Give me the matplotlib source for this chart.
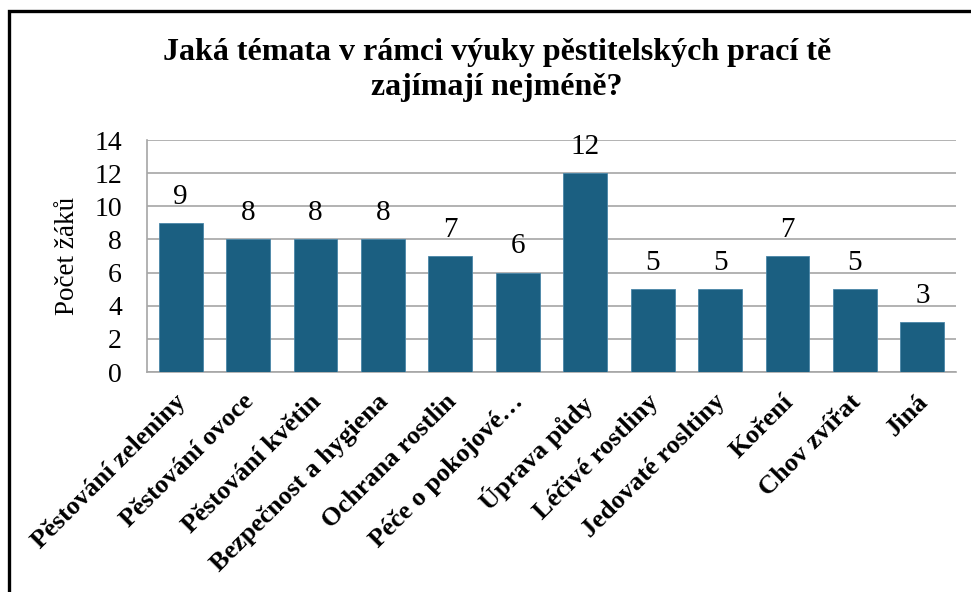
import matplotlib.pyplot as plt
from matplotlib.patches import Rectangle
from matplotlib.transforms import ScaledTranslation

# data
kategorie = ['Pěstování zeleniny', 'Pěstování ovoce', 'Pěstování květin',
             'Bezpečnost a hygiena', 'Ochrana rostlin', 'Péče o pokojové…',
             'Úprava půdy', 'Léčivé rostliny', 'Jedovaté rosltiny', 'Koření',
             'Chov zvířat', 'Jiná']
pocty = [9, 8, 8, 8, 7, 6, 12, 5, 5, 7, 5, 3]
y_ticks = [0, 2, 4, 6, 8, 10, 12, 14]

plt.rcParams['font.family'] = ['Liberation Serif', 'DejaVu Serif']

fig = plt.figure(figsize=(9.71, 5.92), dpi=100)
ax = fig.add_axes([0.1514, 0.3716, 0.8332, 0.3919])

x = range(len(kategorie))
bars = ax.bar(x, pocty, width=0.65, color='#1b5f81', edgecolor='#4a86a8',
              linewidth=0.6, zorder=3)
for b, v in zip(bars, pocty):
    ax.text(b.get_x() + b.get_width() / 2, v + 0.8, str(v),
            ha='center', va='bottom', fontsize=21)

ax.set_xlim(-0.5, len(kategorie) - 0.5)
ax.set_ylim(0, 14)
ax.set_yticks(y_ticks)
ax.tick_params(axis='y', length=0, pad=18, labelsize=20)
ax.tick_params(axis='x', length=0, pad=13)
ax.set_xticks(list(x))
ax.set_xticklabels(kategorie, rotation=45, ha='right', va='top',
                   rotation_mode='anchor', fontsize=19, fontweight='bold')
# popisky trochu doleva
posun = ScaledTranslation(-6 / 100, 0, fig.dpi_scale_trans)
for lbl in ax.get_xticklabels():
    lbl.set_transform(lbl.get_transform() + posun)

ax.yaxis.grid(True, color='#a6a6a6', linewidth=1.2, zorder=0)
for s in ['top', 'right']:
    ax.spines[s].set_visible(False)
for s in ['left', 'bottom']:
    ax.spines[s].set_color('#a6a6a6')
    ax.spines[s].set_linewidth(1.2)

ax.set_ylabel('Počet žáků', fontsize=19.5, labelpad=10)

fig.text(0.512, 0.882, 'Jaká témata v rámci výuky pěstitelských prací tě\nzajímají nejméně?',
         ha='center', va='center', fontsize=23, fontweight='bold', linespacing=1.3)

# ramecek grafu
fig.patches.append(Rectangle((9 / 971, -0.1), 1.2, 1.1 - 11 / 592,
                             transform=fig.transFigure, fill=False,
                             edgecolor='black', linewidth=2.4))

plt.savefig('out.png', dpi=100)
